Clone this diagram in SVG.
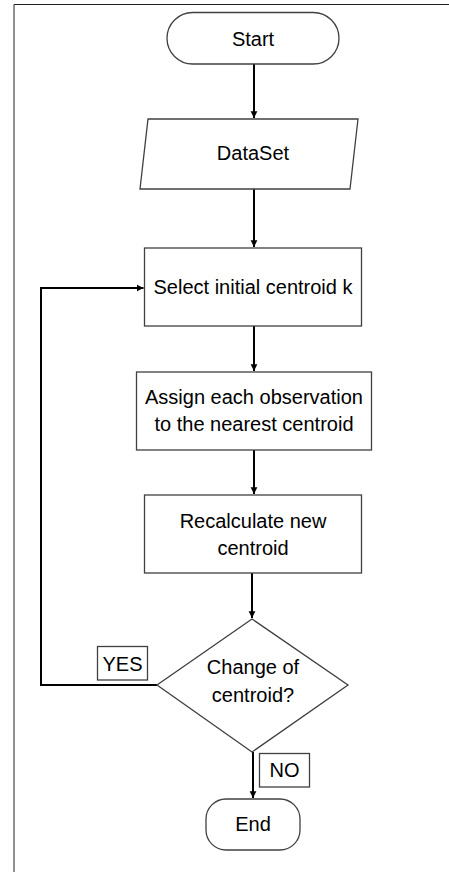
<svg xmlns="http://www.w3.org/2000/svg" width="449" height="872" viewBox="0 0 449 872">
<defs>
<marker id="ah" viewBox="0 0 10 10" refX="10" refY="5" markerWidth="3.4" markerHeight="3.6" orient="auto" markerUnits="strokeWidth">
<path d="M0,0 L10,5 L0,10 Z" fill="#000"/>
</marker>
</defs>
<style>
.n{fill:#fff;stroke:#404040;stroke-width:1.3}
.t{font-family:"Liberation Sans",Arial,sans-serif;font-size:20px;fill:#000;text-anchor:middle}
.c{fill:none;stroke:#000;stroke-width:2}
.f{fill:none;stroke:#222;stroke-width:1}
</style>
<rect width="449" height="872" fill="#fff"/>
<path class="f" d="M14,872 V4.5 H449"/>
<g id="connectors">
<path class="c" d="M254,64 V118" marker-end="url(#ah)"/>
<path class="c" d="M254,189 V247" marker-end="url(#ah)"/>
<path class="c" d="M254,326 V371" marker-end="url(#ah)"/>
<path class="c" d="M254,450 V494" marker-end="url(#ah)"/>
<path class="c" d="M252,573 V618" marker-end="url(#ah)"/>
<path class="c" d="M157,685 H41 V288 H143.5" marker-end="url(#ah)"/>
<path class="c" d="M253,752 V798" marker-end="url(#ah)"/>
</g>
<g id="start">
<rect class="n" x="167" y="12.5" width="172" height="51.5" rx="25.75"/>
<text class="t" x="253" y="46">Start</text>
</g>
<g id="dataset">
<path class="n" d="M148,119 H358 L350,189 H140 Z"/>
<text class="t" x="253" y="160">DataSet</text>
</g>
<g id="select">
<rect class="n" x="144.5" y="248" width="217" height="78"/>
<text class="t" x="253" y="294">Select initial centroid k</text>
</g>
<g id="assign">
<rect class="n" x="136.5" y="372" width="235" height="78"/>
<text class="t" x="254" y="404">Assign each observation</text>
<text class="t" x="254" y="431">to the nearest centroid</text>
</g>
<g id="recalc">
<rect class="n" x="144.5" y="495" width="217" height="78"/>
<text class="t" x="253" y="528">Recalculate new</text>
<text class="t" x="253" y="555">centroid</text>
</g>
<g id="decision">
<path class="n" d="M252,619 L348,685 L252,752 L157,685 Z"/>
<text class="t" x="253" y="674">Change of</text>
<text class="t" x="253" y="702">centroid?</text>
</g>
<g id="yes">
<rect class="n" x="97.5" y="646.5" width="50" height="33.5"/>
<text class="t" x="122.5" y="671">YES</text>
</g>
<g id="no">
<rect class="n" x="259.5" y="753.5" width="50" height="33.5"/>
<text class="t" x="284.5" y="777">NO</text>
</g>
<g id="end">
<rect class="n" x="206" y="799" width="94" height="51" rx="20"/>
<text class="t" x="253" y="831">End</text>
</g>
</svg>
